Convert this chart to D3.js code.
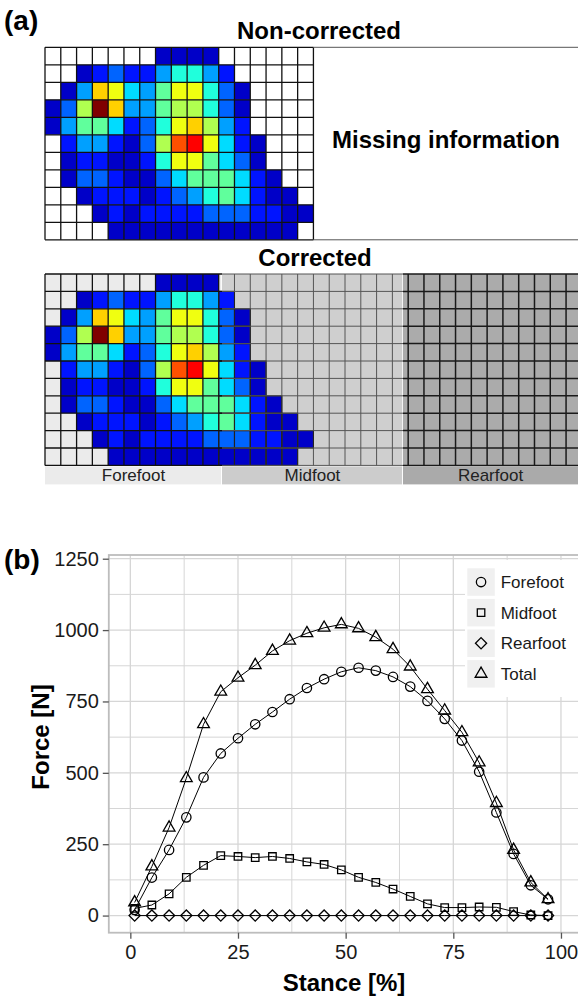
<!DOCTYPE html>
<html lang="en">
<head>
<meta charset="UTF-8">
<title>Plantar pressure and force</title>
<script src="https://d3js.org/d3.v7.min.js"></script>
<style>
  body { margin: 0; background: #fff; }
  svg { display: block; font-family: "Liberation Sans", Arial, sans-serif; }
</style>
</head>
<body>
<svg width="578" height="1000"></svg>
<script>

// pressure class per sensor cell (0 = no contact), 11 rows x 17 columns
const pressure = [
    [0, 0, 0, 0, 0, 0, 0, 1, 1, 1, 1, 0, 0, 0, 0, 0, 0],
    [0, 0, 1, 2, 3, 2, 2, 4, 6, 6, 4, 2, 0, 0, 0, 0, 0],
    [0, 1, 4, 10, 9, 5, 4, 7, 9, 9, 6, 3, 1, 0, 0, 0, 0],
    [1, 3, 8, 13, 10, 4, 4, 7, 8, 8, 6, 3, 1, 0, 0, 0, 0],
    [1, 4, 7, 7, 5, 2, 3, 6, 9, 10, 8, 4, 2, 0, 0, 0, 0],
    [0, 2, 4, 4, 2, 1, 3, 8, 11, 12, 9, 5, 2, 1, 0, 0, 0],
    [0, 1, 2, 2, 1, 1, 2, 6, 9, 9, 7, 5, 3, 1, 0, 0, 0],
    [0, 1, 3, 3, 2, 1, 1, 3, 5, 7, 7, 7, 5, 2, 1, 0, 0],
    [0, 0, 1, 2, 2, 2, 1, 2, 3, 4, 6, 7, 5, 2, 1, 1, 0],
    [0, 0, 0, 1, 2, 1, 2, 2, 2, 2, 3, 3, 3, 2, 2, 1, 1],
    [0, 0, 0, 0, 1, 1, 1, 1, 1, 1, 1, 1, 1, 1, 1, 1, 0]
];

// foot regions of the corrected mat, in sensor columns
const regions = ["Forefoot", "Midfoot", "Rearfoot"];
const regionStart = [0, 11.21, 22.67];
const regionEnd = [11.21, 22.67, 33.76];

// vertical force over stance
const stance = [1, 5, 9, 13, 17, 21, 25, 29, 33, 37, 41, 45, 49, 53, 57, 61, 65, 69, 73, 77, 81, 85, 89, 93, 97];
const forefoot = [20, 133, 230, 344, 484, 568, 621, 670, 713, 758, 797, 828, 854, 868, 858, 836, 802, 752, 689, 613, 504, 361, 216, 106, 57];
const midfoot = [25, 37, 76, 134, 176, 210, 207, 203, 207, 200, 188, 179, 160, 134, 116, 93, 67, 41, 28, 28, 30, 29, 14, 2, 0];
const rearfoot = [0, 0, 0, 0, 0, 0, 0, 0, 0, 0, 0, 0, 0, 0, 0, 0, 0, 0, 0, 0, 0, 0, 0, 0, 0];
const total = [46, 172, 308, 481, 670, 784, 833, 877, 927, 963, 989, 1008, 1020, 1006, 975, 933, 872, 793, 718, 642, 536, 394, 230, 116, 57];

const seriesNames = ["Forefoot", "Midfoot", "Rearfoot", "Total"];
const yTicks = [0, 250, 500, 750, 1000, 1250];
const xTicks = [0, 25, 50, 75, 100];

const svg = d3.select("svg");
const nRows = pressure.length, nCols = pressure[0].length;

// jet-like palette for the pressure classes
const jet = d3.scaleOrdinal()
    .domain(d3.range(1, 14))
    .range(["#0000c8", "#0014ff", "#0064ff", "#00a0ff", "#00dcff", "#20ffdc", "#60ff9c",
            "#b0ff50", "#f0ff10", "#ffd000", "#ff5000", "#ff0000", "#800000"]);

const cellW = 15.79;
const col = d3.scaleLinear().domain([0, 1]).range([45, 45 + cellW]);

const cells = pressure.flatMap((row, r) => row.map((v, c) => ({ r, c, v })));

// ---------- (a) non-corrected ----------
const rowTop = d3.scaleLinear().domain([0, nRows]).range([47.3, 239.8]);

svg.append("text").attr("x", 4).attr("y", 30)
    .attr("font-size", 28).attr("font-weight", "bold").text("(a)");
svg.append("text").attr("x", 319).attr("y", 39).attr("text-anchor", "middle")
    .attr("font-size", 24).attr("font-weight", "bold").text("Non-corrected");

const topGrid = svg.append("g");
topGrid.selectAll("rect").data(cells).join("rect")
    .attr("x", d => col(d.c)).attr("y", d => rowTop(d.r))
    .attr("width", cellW).attr("height", rowTop(1) - rowTop(0))
    .attr("fill", d => d.v ? jet(d.v) : "#fff");

topGrid.selectAll("line.v").data(d3.range(nCols + 1)).join("line")
    .attr("class", "v")
    .attr("x1", d => col(d)).attr("x2", d => col(d))
    .attr("y1", rowTop(0)).attr("y2", rowTop(nRows))
    .attr("stroke", "#111").attr("stroke-width", 1.3);
topGrid.selectAll("line.h").data(d3.range(nRows + 1)).join("line")
    .attr("class", "h")
    .attr("x1", col(0)).attr("x2", col(nCols))
    .attr("y1", d => rowTop(d)).attr("y2", d => rowTop(d))
    .attr("stroke", "#111").attr("stroke-width", 1.3);

// box for the missing part of the mat
topGrid.append("line").attr("x1", col(nCols)).attr("x2", 578)
    .attr("y1", rowTop(0)).attr("y2", rowTop(0)).attr("stroke", "#555");
topGrid.append("line").attr("x1", col(nCols)).attr("x2", 578)
    .attr("y1", rowTop(nRows)).attr("y2", rowTop(nRows)).attr("stroke", "#555");
topGrid.append("text").attr("x", 446).attr("y", 148).attr("text-anchor", "middle")
    .attr("font-size", 24).attr("font-weight", "bold").text("Missing information");

// ---------- (a) corrected ----------
const rowBot = d3.scaleLinear().domain([0, nRows]).range([274, 465.4]);
svg.append("text").attr("x", 315).attr("y", 266).attr("text-anchor", "middle")
    .attr("font-size", 24).attr("font-weight", "bold").text("Corrected");

const bg = ["#ebebeb", "#cfcfcf", "#ababab"];
const lineCol = ["#111", "#555", "#1a1a1a"];
const lineW = [1.3, 1, 1.5];
const bandBg = ["#ebebeb", "#cccccc", "#aaaaaa"];
const regionOf = c => regionEnd.findIndex(e => c < e - 0.01);

const botGrid = svg.append("g");
botGrid.selectAll("rect.region").data(regions).join("rect")
    .attr("class", "region")
    .attr("x", (d, i) => col(regionStart[i])).attr("y", rowBot(0))
    .attr("width", (d, i) => col(regionEnd[i]) - col(regionStart[i]) - (i < 2 ? 0.8 : 0))
    .attr("height", rowBot(nRows) - rowBot(0))
    .attr("fill", (d, i) => bg[i]);

botGrid.selectAll("rect.cell").data(cells.filter(d => d.v)).join("rect")
    .attr("class", "cell")
    .attr("x", d => col(d.c)).attr("y", d => rowBot(d.r))
    .attr("width", cellW).attr("height", rowBot(1) - rowBot(0))
    .attr("fill", d => jet(d.v));

const allCols = d3.range(Math.ceil(regionEnd[2]));
botGrid.selectAll("line.v").data(allCols).join("line")
    .attr("class", "v")
    .attr("x1", d => col(d)).attr("x2", d => col(d))
    .attr("y1", rowBot(0)).attr("y2", rowBot(nRows))
    .attr("stroke", d => d <= 11 ? lineCol[0] : lineCol[regionOf(d)])
    .attr("stroke-width", d => d <= 11 ? lineW[0] : lineW[regionOf(d)]);

// dark outline round the coloured cells that fall in the midfoot
botGrid.selectAll("rect.edge").data(cells.filter(d => d.v && d.c >= 11)).join("rect")
    .attr("class", "edge")
    .attr("x", d => col(d.c)).attr("y", d => rowBot(d.r))
    .attr("width", cellW).attr("height", rowBot(1) - rowBot(0))
    .attr("fill", "none").attr("stroke", "#222").attr("stroke-width", 1.1);

regions.forEach((name, i) => {
    botGrid.selectAll("line.h" + i).data(d3.range(nRows + 1)).join("line")
        .attr("class", "h" + i)
        .attr("x1", col(regionStart[i])).attr("x2", col(regionEnd[i]))
        .attr("y1", d => rowBot(d)).attr("y2", d => rowBot(d))
        .attr("stroke", lineCol[i]).attr("stroke-width", lineW[i]);
});

// region bands under the mat
const band = botGrid.selectAll("g.band").data(regions).join("g").attr("class", "band");
band.append("rect")
    .attr("x", (d, i) => col(regionStart[i])).attr("y", rowBot(nRows) + 1)
    .attr("width", (d, i) => col(regionEnd[i]) - col(regionStart[i]) - (i < 2 ? 1 : 0))
    .attr("height", 18)
    .attr("fill", (d, i) => bandBg[i]);
band.append("text")
    .attr("x", (d, i) => (col(regionStart[i]) + col(regionEnd[i])) / 2)
    .attr("y", rowBot(nRows) + 16)
    .attr("text-anchor", "middle").attr("font-size", 17).attr("fill", "#222")
    .text(d => d);

// ---------- (b) force curves ----------
const x = d3.scaleLinear().domain([-5, 105]).range([108.8, 582.5]);
const y = d3.scaleLinear().domain([-60, 1263]).range([932.7, 555]);

svg.append("text").attr("x", 4).attr("y", 569)
    .attr("font-size", 28).attr("font-weight", "bold").text("(b)");

const plot = svg.append("g");
plot.append("rect").attr("x", x.range()[0]).attr("y", y.range()[1])
    .attr("width", x.range()[1] - x.range()[0]).attr("height", y.range()[0] - y.range()[1])
    .attr("fill", "#fff");

plot.selectAll("line.gx").data(d3.range(0, 101, 12.5)).join("line")
    .attr("class", "gx")
    .attr("x1", d => x(d)).attr("x2", d => x(d))
    .attr("y1", y.range()[0]).attr("y2", y.range()[1])
    .attr("stroke", "#d6d6d6").attr("stroke-width", d => d % 25 ? 1 : 1.3);
plot.selectAll("line.gy").data(d3.range(0, 1251, 125)).join("line")
    .attr("class", "gy")
    .attr("x1", x.range()[0]).attr("x2", x.range()[1])
    .attr("y1", d => y(d)).attr("y2", d => y(d))
    .attr("stroke", "#d6d6d6").attr("stroke-width", d => d % 250 ? 1 : 1.3);

const series = [forefoot, midfoot, rearfoot, total];
const shapes = [
    d3.symbol(d3.symbolCircle, 69),
    d3.symbol(d3.symbolSquare, 56),
    d3.symbol(d3.symbolSquare, 62),
    d3.symbol(d3.symbolTriangle, 60)
];
const rot = [0, 0, 45, 0];

const line = d3.line().x((d, i) => x(stance[i])).y(d => y(d));
series.forEach((vals, s) => {
    plot.append("path").datum(vals).attr("d", line)
        .attr("fill", "none").attr("stroke", "#000").attr("stroke-width", 1);
});
series.forEach((vals, s) => {
    plot.selectAll("path.m" + s).data(vals).join("path")
        .attr("class", "m" + s)
        .attr("d", shapes[s])
        .attr("transform", (d, i) => `translate(${x(stance[i])},${y(d)}) rotate(${rot[s]})`)
        .attr("fill", "none").attr("stroke", "#000").attr("stroke-width", 1.3);
});

// panel border
plot.append("rect").attr("x", x.range()[0]).attr("y", y.range()[1])
    .attr("width", x.range()[1] - x.range()[0]).attr("height", y.range()[0] - y.range()[1])
    .attr("fill", "none").attr("stroke", "#bdbdbd").attr("stroke-width", 1.8);

// axes
const yAxis = svg.append("g").attr("transform", `translate(${x.range()[0]},0)`)
    .call(d3.axisLeft(y).tickValues(yTicks).tickFormat(d3.format("d")).tickSize(6).tickPadding(4));
const xAxis = svg.append("g").attr("transform", `translate(0,${y.range()[0]})`)
    .call(d3.axisBottom(x).tickValues(xTicks).tickFormat(d3.format("d")).tickSize(6).tickPadding(6));
[xAxis, yAxis].forEach(a => {
    a.select(".domain").remove();
    a.selectAll(".tick line").attr("stroke", "#555").attr("stroke-width", 1.3);
    a.selectAll(".tick text").attr("font-size", 20).attr("fill", "#1a1a1a")
        .attr("font-family", "Liberation Sans, Arial, sans-serif");
});

svg.append("text").attr("transform", "translate(49,737) rotate(-90)")
    .attr("text-anchor", "middle").attr("font-size", 24).attr("font-weight", "bold")
    .text("Force [N]");
svg.append("text").attr("x", 344).attr("y", 991)
    .attr("text-anchor", "middle").attr("font-size", 24).attr("font-weight", "bold")
    .text("Stance [%]");

// legend
const legend = svg.append("g");
legend.append("rect").attr("x", 465).attr("y", 560).attr("width", 120).attr("height", 137)
    .attr("fill", "#fff");
const item = legend.selectAll("g.item").data(seriesNames).join("g")
    .attr("class", "item")
    .attr("transform", (d, i) => `translate(467.3,${568.3 + i * 30.6})`);
item.append("rect").attr("width", 27.5).attr("height", 27.5).attr("fill", "#f0f0f0");
item.append("path")
    .attr("d", (d, i) => shapes[i]())
    .attr("transform", (d, i) => `translate(13.75,13.75) rotate(${rot[i]})`)
    .attr("fill", "none").attr("stroke", "#000").attr("stroke-width", 1.3);
item.append("text").attr("x", 33.4).attr("y", 13.75).attr("dy", "0.35em")
    .attr("font-size", 17).attr("fill", "#1a1a1a").text(d => d);

</script>
</body>
</html>
